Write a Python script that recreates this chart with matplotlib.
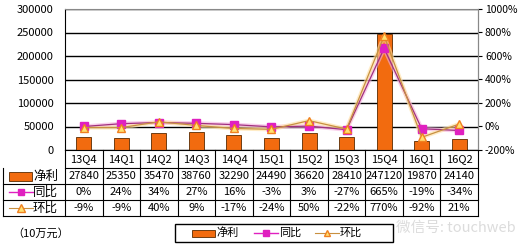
import matplotlib
matplotlib.use("Agg")
import matplotlib.pyplot as plt
import numpy as np
from matplotlib.lines import Line2D
from matplotlib.patches import Rectangle

plt.rcParams['font.family'] = ['Noto Sans CJK SC', 'DejaVu Sans']

quarters = ["13Q4", "14Q1", "14Q2", "14Q3", "14Q4", "15Q1", "15Q2", "15Q3", "15Q4", "16Q1", "16Q2"]
profit = [27840, 25350, 35470, 38760, 32290, 24490, 36620, 28410, 247120, 19870, 24140]
yoy = [0, 24, 34, 27, 16, -3, 3, -27, 665, -19, -34]
qoq = [-9, -9, 40, 9, -17, -24, 50, -22, 770, -92, 21]

W, H = 518, 244
fig = plt.figure(figsize=(W / 100, H / 100), dpi=100)

def fx(x):
    return x / W

def fy(y):
    return 1 - y / H

left, right, top, bottom = 65, 478, 9, 150
ax = fig.add_axes([fx(left), fy(bottom), fx(right - left), (bottom - top) / H])
ax2 = ax.twinx()

n = len(quarters)
x = np.arange(n)
ax.bar(x, profit, width=0.4, color="#F26B0F", edgecolor="#5a2a00", linewidth=0.6, zorder=2)
ax.set_xlim(-0.5, n - 0.5)
ax.set_ylim(0, 300000)
ax.set_yticks(np.arange(0, 300001, 50000))
ax.yaxis.grid(True, color="black", linewidth=1)
ax.set_axisbelow(True)
ax.set_xticks([])
ax.tick_params(axis="y", length=0, labelsize=8, pad=8)
for s in ["top", "right"]:
    ax.spines[s].set_color("#888888")
ax.spines["left"].set_color("black")
ax.spines["bottom"].set_color("black")

ax2.plot(x, yoy, color="#F5B0E0", linewidth=3, alpha=0.6, zorder=3)
ax2.plot(x, yoy, color="#A0307F", linewidth=0.9, marker="s", markersize=6,
         markerfacecolor="#E020C0", markeredgecolor="#E020C0", zorder=4)
ax2.plot(x, qoq, color="#FFE0A0", linewidth=3, alpha=0.6, zorder=3)
ax2.plot(x, qoq, color="#C89040", linewidth=0.9, marker="^", markersize=6,
         markerfacecolor="#FFE070", markeredgecolor="#F08020", zorder=5)
ax2.set_ylim(-200, 1000)
ax2.set_yticks(np.arange(-200, 1001, 200))
ax2.set_yticklabels([f"{v}%" for v in range(-200, 1001, 200)])
ax2.tick_params(axis="y", length=3, labelsize=7.5, pad=2)
for s in ["top", "left", "bottom"]:
    ax2.spines[s].set_visible(False)
ax2.spines["right"].set_color("#888888")

# data table under the chart
rows = [150, 168, 184, 200, 216]
colw = (right - left) / n
lw = 0.8
fig.add_artist(Line2D([fx(left), fx(right)], [fy(168), fy(168)], color="black", lw=lw))
for y in rows[2:]:
    fig.add_artist(Line2D([fx(3), fx(right)], [fy(y), fy(y)], color="black", lw=lw))
fig.add_artist(Line2D([fx(3), fx(3)], [fy(168), fy(216)], color="black", lw=lw))
for i in range(n + 1):
    xx = left + i * colw
    fig.add_artist(Line2D([fx(xx), fx(xx)], [fy(150), fy(216)], color="black", lw=lw))

for i in range(n):
    cx = fx(left + (i + 0.5) * colw)
    fig.text(cx, fy(159), quarters[i], ha="center", va="center", fontsize=8)
    fig.text(cx, fy(176), str(profit[i]), ha="center", va="center", fontsize=8)
    fig.text(cx, fy(192), f"{yoy[i]}%", ha="center", va="center", fontsize=8)
    fig.text(cx, fy(208), f"{qoq[i]}%", ha="center", va="center", fontsize=8)

# row headers with keys
fig.add_artist(Rectangle((fx(9), fy(181)), fx(23), 9 / H, facecolor="#F26B0F", edgecolor="#5a2a00", lw=0.6))
fig.text(fx(33), fy(176), "净利", ha="left", va="center", fontsize=9)
fig.add_artist(Line2D([fx(9), fx(33)], [fy(192), fy(192)], color="#E020C0", lw=1))
fig.add_artist(Line2D([fx(21)], [fy(192)], color="#E020C0", marker="s", markersize=5))
fig.text(fx(33), fy(192), "同比", ha="left", va="center", fontsize=9)
fig.add_artist(Line2D([fx(9), fx(33)], [fy(208), fy(208)], color="#C89040", lw=0.8))
fig.add_artist(Line2D([fx(21)], [fy(208)], marker="^", markersize=6,
                      markerfacecolor="#FFE070", markeredgecolor="#F08020"))
fig.text(fx(33), fy(208), "环比", ha="left", va="center", fontsize=9)

fig.text(fx(12), fy(233), "（10万元）", ha="left", va="center", fontsize=8)

# legend box
fig.add_artist(Rectangle((fx(175), fy(242)), fx(393 - 175), 18 / H, facecolor="white", edgecolor="black", lw=1))
fig.add_artist(Rectangle((fx(192), fy(237)), fx(23), 7 / H, facecolor="#F26B0F", edgecolor="#5a2a00", lw=0.6))
fig.text(fx(216), fy(233), "净利", ha="left", va="center", fontsize=8)
fig.add_artist(Line2D([fx(254), fx(278)], [fy(233), fy(233)], color="#E020C0", lw=1))
fig.add_artist(Line2D([fx(266)], [fy(233)], color="#E020C0", marker="s", markersize=5))
fig.text(fx(279), fy(233), "同比", ha="left", va="center", fontsize=8)
fig.add_artist(Line2D([fx(315), fx(339)], [fy(233), fy(233)], color="#C89040", lw=0.8))
fig.add_artist(Line2D([fx(327)], [fy(233)], marker="^", markersize=5,
                      markerfacecolor="#FFE070", markeredgecolor="#F08020"))
fig.text(fx(340), fy(233), "环比", ha="left", va="center", fontsize=8)

fig.text(fx(456), fy(228), "微信号: touchweb", ha="center", va="center", fontsize=10.5, color="#dcdcdc", zorder=0)

fig.savefig("out.png", dpi=100)
